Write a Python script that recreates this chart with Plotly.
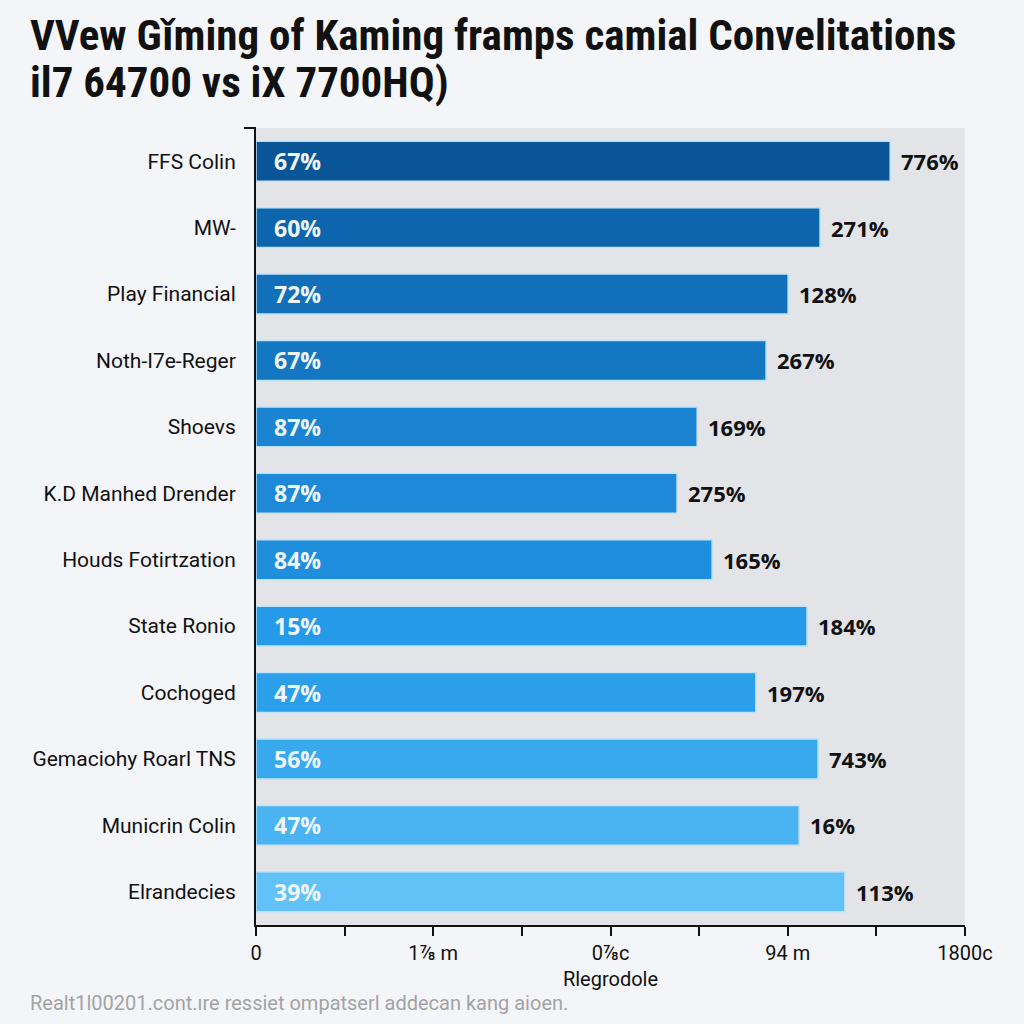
import plotly.graph_objects as go

categories = ["FFS Colin", "MW-", "Play Financial", "Noth-I7e-Reger", "Shoevs",
              "K.D Manhed Drender", "Houds Fotirtzation", "State Ronio", "Cochoged",
              "Gemaciohy Roarl TNS", "Municrin Colin", "Elrandecies"]
values = [1610, 1432, 1351, 1295, 1120, 1069, 1158, 1399, 1269, 1427, 1379, 1495]
inner_labels = ["67%", "60%", "72%", "67%", "87%", "87%", "84%", "15%", "47%", "56%", "47%", "39%"]
outer_labels = ["776%", "271%", "128%", "267%", "169%", "275%", "165%", "184%", "197%", "743%", "16%", "113%"]
bar_colors = ["#0a5595", "#0d66ad", "#1170b9", "#1477c2", "#1a84d2", "#1d89d8",
              "#1f8edc", "#259ae8", "#2c9fea", "#39a9ee", "#4ab3f2", "#62c2f7"]
tick_vals = [0, 225, 450, 675, 900, 1125, 1350, 1575, 1800]
tick_text = ["0", "", "1⅞ m", "", "0⅞c", "", "94 m", "", "1800c"]
title_lines = ["VVew Gǐming of Kaming framps camial Convelitations", "il7 64700 vs iX 7700HQ)"]
footnote = "Realt1l00201.cont.ıre ressiet ompatserl addecan kang aioen."

W, H = 1024, 1024
L, R, T, B = 256, 59, 128, 99
PW, PH = W - L - R, H - T - B

fig = go.Figure()
fig.add_trace(go.Bar(
    y=categories, x=values, orientation="h", width=0.6,
    marker=dict(color=bar_colors, line=dict(color="#bfe3fb", width=1.5)),
    hoverinfo="skip",
))

for c, v, il, ol in zip(categories, values, inner_labels, outer_labels):
    fig.add_annotation(x=0, y=c, text=il, showarrow=False, xanchor="left", xshift=16,
                       font=dict(family="Open Sans, Roboto, sans-serif", size=23, color="#eef6fc", weight="bold"))
    fig.add_annotation(x=v, y=c, text=ol, showarrow=False, xanchor="left", xshift=9,
                       font=dict(family="Open Sans, Roboto, sans-serif", size=22, color="#111111", weight="bold"))

title_font = dict(family="Liberation Sans Narrow, Roboto Condensed, Arial Narrow, sans-serif",
                  size=43, color="#111111", weight="bold")
for line, yc in zip(title_lines, [35, 82]):
    fig.add_annotation(xref="paper", yref="paper", x=(28 - L) / PW, y=(H - B - yc) / PH,
                       xanchor="left", yanchor="middle", text=line, showarrow=False, font=title_font)

fig.add_annotation(xref="paper", yref="paper", x=(28 - L) / PW, y=(H - B - 1003) / PH,
                   xanchor="left", yanchor="middle", text=footnote, showarrow=False,
                   font=dict(size=20, family="Roboto, sans-serif", color="#a3a3a3"))

fig.add_shape(type="line", xref="paper", yref="paper", x0=(244 - L) / PW, x1=0, y0=1, y1=1,
              line=dict(color="#111111", width=2))

fig.update_layout(
    width=W, height=H,
    margin=dict(l=L, r=R, t=T, b=B),
    paper_bgcolor="#f4f5f9", plot_bgcolor="#e3e4e8",
    showlegend=False,
    bargap=0.4,
    font=dict(family="Roboto, sans-serif", color="#111111"),
)
fig.update_xaxes(range=[0, 1800], tickvals=tick_vals, ticktext=tick_text,
                 showgrid=False, zeroline=False, showline=True, linecolor="#111111", linewidth=2,
                 ticks="outside", ticklen=9, tickcolor="#111111", tickwidth=1.5,
                 tickfont=dict(size=20, family="Roboto, sans-serif"),
                 title=dict(text="Rlegrodole", font=dict(size=20, family="Roboto, sans-serif"), standoff=8))
fig.update_yaxes(autorange="reversed", showgrid=False, zeroline=False, showline=True,
                 linecolor="#111111", linewidth=2, ticks="", ticklabelstandoff=14,
                 tickfont=dict(size=21, family="Roboto, sans-serif"))

fig.write_html("out.html", config={"displayModeBar": False},
               post_script="document.body.style.margin='0';document.body.style.background='#f4f5f9';")
